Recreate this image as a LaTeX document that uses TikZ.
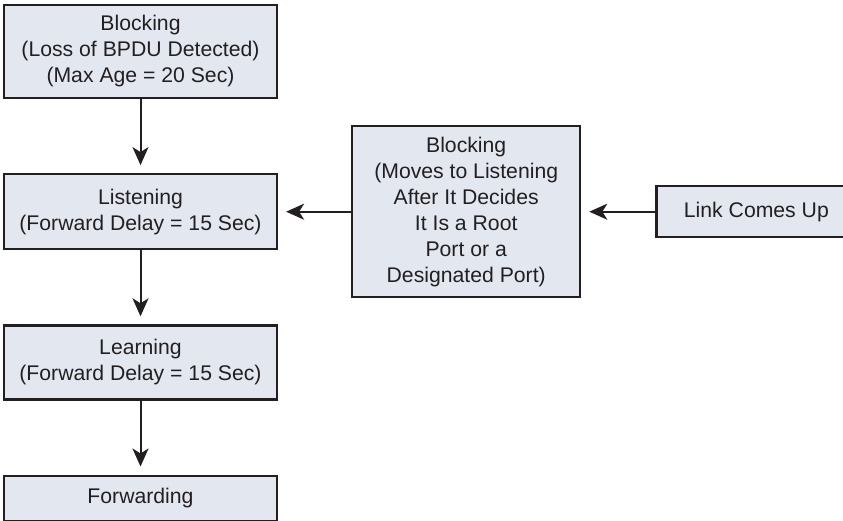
\documentclass[tikz,border=0pt]{standalone}
\usepackage{fontspec}
\setmainfont{Liberation Sans}
\usetikzlibrary{arrows.meta,positioning}
\definecolor{boxbg}{HTML}{E3E8F0}
\definecolor{edge}{HTML}{231F20}
\newcommand{\boxfont}{\fontsize{21.2}{26}\selectfont}
\begin{document}
\begin{tikzpicture}[
  x=1pt, y=-1pt,
  node distance=74pt,
  state/.style={draw=edge, fill=boxbg, line width=2.2pt, minimum width=273pt, inner sep=0pt, align=center, font=\boxfont, text=edge},
  arr/.style={-{Stealth[length=18pt,width=16pt,inset=5pt]}, line width=2pt, draw=edge, shorten >=8pt}
]
\useasboundingbox (0,0) rectangle (843,520);
\node[state, minimum height=93pt] (block1) at (140.5,51.5) {Blocking\\(Loss of BPDU Detected)\\(Max Age = 20 Sec)};
\node[state, minimum height=75pt, below=74pt of block1] (listen) {Listening\\(Forward Delay = 15 Sec)};
\node[state, minimum height=74pt, below=74pt of listen] (learn) {Learning\\(Forward Delay = 15 Sec)};
\node[state, minimum height=45pt, below=74pt of learn] (fwd) {Forwarding};
\node[state, minimum width=228pt, minimum height=171pt, right=73pt of listen] (block2) {Blocking\\(Moves to Listening\\After It Decides\\It Is a Root\\Port or a\\Designated Port)};
\node[state, minimum width=200pt, minimum height=51pt, right=74pt of block2] (link) {Link Comes Up};
\draw[arr] (block1) -- (listen);
\draw[arr] (listen) -- (learn);
\draw[arr] (learn) -- (fwd);
\draw[arr] (block2) -- (listen);
\draw[arr] (link) -- (block2);
\end{tikzpicture}
\end{document}
